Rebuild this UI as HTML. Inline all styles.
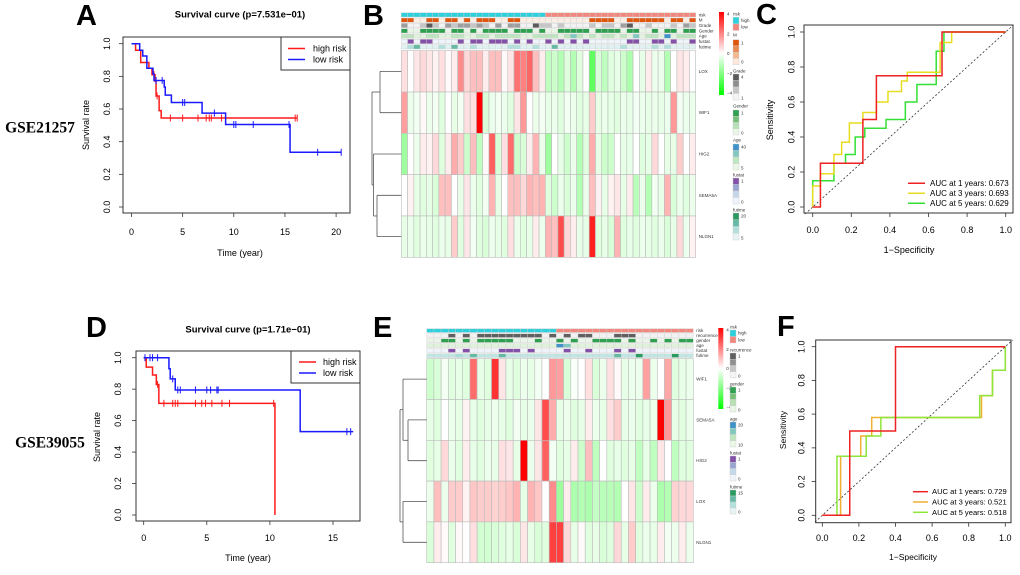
<!DOCTYPE html>
<html><head><meta charset="utf-8">
<style>
html,body{margin:0;padding:0;background:#fff;}
svg{display:block;font-family:"Liberation Sans",Arial,sans-serif;}
</style></head>
<body>
<svg id="fig" width="1020" height="575" viewBox="0 0 1020 575" xmlns="http://www.w3.org/2000/svg">
<rect x="0" y="0" width="1020" height="575" fill="#fff"/>
</svg>
<script>
// ===== Panel A KM data (GSE21257) =====
const A_high_t = [0, 0.4, 0.9, 1.7, 2.0, 2.3, 2.4, 2.7, 2.9];
const A_high_s = [1, 0.96, 0.885, 0.85, 0.81, 0.77, 0.68, 0.59, 0.545];
const A_high_end = 16.2;
const A_high_cens = [2.2, 2.5, 3.8, 5.0, 6.5, 7.3, 7.6, 7.8, 8.8, 16.0, 16.2];
const A_low_t = [0, 0.8, 1.1, 1.5, 2.1, 2.2, 3.2, 3.3, 3.9, 6.9, 9.2, 15.5];
const A_low_s = [1, 0.96, 0.925, 0.85, 0.815, 0.775, 0.735, 0.685, 0.64, 0.575, 0.505, 0.335];
const A_low_end = 20.5;
const A_low_cens = [2.4, 3.0, 5.0, 5.2, 8.1, 10.0, 10.2, 11.9, 15.4, 18.2, 20.5];
const A_xticks = [0, 5, 10, 15, 20];
const surv_yticks = [0, 0.2, 0.4, 0.6, 0.8, 1.0];
// ===== Panel D KM data (GSE39055) =====
const D_high_t = [0, 0.2, 0.7, 1.0, 1.2, 10.4];
const D_high_s = [1, 0.94, 0.89, 0.83, 0.71, 0];
const D_high_end = 10.4;
const D_high_cens = [1.1, 1.6, 2.3, 2.5, 2.7, 4.1, 4.6, 4.9, 5.4, 6.2, 6.8, 10.3];
const D_low_t = [0, 2.0, 2.1, 2.5, 12.4];
const D_low_s = [1, 0.93, 0.865, 0.795, 0.53];
const D_low_end = 16.6;
const D_low_cens = [0.1, 0.5, 0.7, 1.1, 2.3, 2.7, 2.9, 4.1, 5.0, 5.3, 5.8, 5.9, 16.1, 16.4];
const D_xticks = [0, 5, 10, 15];
// ===== ROC C =====
const C_red_fpr = [0,0.04,0.04,0.26,0.26,0.33,0.33,0.67,0.67,1];
const C_red_tpr = [0,0,0.25,0.25,0.5,0.5,0.75,0.75,1,1];
const C_yel_fpr = [0,0,0.04,0.04,0.11,0.11,0.15,0.15,0.19,0.19,0.26,0.26,0.33,0.33,0.39,0.39,0.46,0.46,0.49,0.49,0.66,0.66,0.72,0.72,1];
const C_yel_tpr = [0,0.12,0.12,0.19,0.19,0.3,0.3,0.37,0.37,0.48,0.48,0.54,0.54,0.6,0.6,0.66,0.66,0.72,0.72,0.77,0.77,0.94,0.94,1,1];
const C_grn_fpr = [0,0,0.11,0.11,0.17,0.17,0.22,0.22,0.27,0.27,0.38,0.38,0.48,0.48,0.54,0.54,0.64,0.64,0.68,0.68,1];
const C_grn_tpr = [0,0.15,0.15,0.25,0.25,0.3,0.3,0.4,0.4,0.45,0.45,0.5,0.5,0.6,0.6,0.7,0.7,0.89,0.89,1,1];
const C_labels = ["AUC at 1 years: 0.673","AUC at 3 years: 0.693","AUC at 5 years: 0.629"];
// ===== ROC F =====
const F_red_fpr = [0,0.15,0.15,0.4,0.4,1];
const F_red_tpr = [0,0,0.5,0.5,1,1];
const F_org_fpr = [0,0.1,0.1,0.21,0.21,0.27,0.27,0.87,0.87,0.93,0.93,1,1];
const F_org_tpr = [0,0,0.35,0.35,0.47,0.47,0.58,0.58,0.71,0.71,0.86,0.86,1];
const F_grn_fpr = [0,0.08,0.08,0.24,0.24,0.32,0.32,0.86,0.86,0.93,0.93,1,1];
const F_grn_tpr = [0,0,0.35,0.35,0.47,0.47,0.58,0.58,0.71,0.71,0.86,0.86,1];
const F_labels = ["AUC at 1 years: 0.729","AUC at 3 years: 0.521","AUC at 5 years: 0.518"];
const roc_ticks = [0, 0.2, 0.4, 0.6, 0.8, 1.0];
// ===== Heatmap B =====
const B_genes = ["LOX","WIF1","HIG2","SEMA5A","NLGN1"];
const B_LOX = [0.5,0,0.4,0.6,0.4,0.2,0.5,0.1,0.3,1.8,0.6,1.0,1.0,0.3,1.0,1.0,0.1,0.4,2.2,2.0,2.4,1.0,0.3,-1,-0.8,-1.2,-0.5,-1.2,-0.5,0,-2.5,-0.6,-1.0,-0.5,-0.4,-0.8,-1.3,0,-0.4,0.3,-0.3,-0.3,-1.2,0,0.4,0.3,0];
const B_WIF1 = [1.5,-0.3,-0.2,0.1,-0.3,-0.2,-0.5,0,-0.4,-0.2,0.5,0.5,4,-0.6,-0.3,-0.2,-0.3,-0.5,0.4,1.6,0,-0.3,-0.2,-0.4,-0.3,-0.5,-0.2,-0.3,-0.5,-0.4,0.8,-0.4,-0.3,-0.4,-0.5,-0.3,-0.4,-0.2,-0.3,-0.4,-0.3,-0.4,-0.3,1.6,-0.2,-0.3,-0.3];
const B_HIG2 = [-1.5,0,-0.3,0.3,0.2,0.6,-0.5,0.3,1.3,0.8,-0.8,1.0,-1,0.1,2.5,-0.6,0.5,2.3,-0.8,-0.6,0.3,1.2,-0.3,-1.5,0,-0.4,-0.8,-0.3,-1.2,-0.5,1.3,-0.4,-0.8,-0.8,0,-0.4,-0.4,0,-0.5,-0.4,0.6,0,-0.4,-0.4,0.8,0,0.3];
const B_SEMA5A = [0,0.2,-0.4,-0.5,-0.4,-0.6,1.0,1.0,0,-0.4,0.4,-0.3,-0.5,-0.2,1.2,-0.4,0,1.0,1.0,0.6,1.2,1.0,1.2,-0.5,-0.8,-0.3,-0.6,-0.3,-1.2,-0.3,1.0,0.2,-0.4,0.2,0.4,-0.4,0.3,-1.1,-0.3,-1.2,-0.2,-0.4,1.2,-0.6,-0.3,-0.5,-0.3];
const B_NLGN1 = [-0.4,-0.3,-0.5,-0.3,-0.4,-0.5,-0.3,-0.4,0.8,-0.5,0.4,-0.2,-0.5,-0.6,-0.3,-0.4,-0.5,0.5,-0.3,-0.5,-0.4,0.3,-0.3,1.2,1.0,2.8,0.6,0.3,-0.4,-0.4,3.5,-0.5,-0.4,-0.6,1.2,-0.5,-0.4,-0.5,-0.3,-0.4,-0.5,-0.3,-0.6,-0.4,0.6,-0.3,0.2];
const B_annot_names = ["risk","M","Grade","Gender","Age","fustat","futime"];
const B_risk   = "00000000000000000000000111111111111111111111111";
const B_M      = "11001101101011100110000000000011110011111101101";
const B_Grade  = "31124213233232131330142212101120221340021112032";
const B_Gender = "10011110110101111011101001111101111011001011011";
const B_Age    = "22112211221122122221122221232121221213122141222";
const B_fustat = "01011000010110111010100101010100000011001101001";
const B_futime = "12311121311211111221121131111111111211112121111";
// ===== Heatmap E =====
const E_genes = ["WIF1","SEMA5A","HIG2","LOX","NLGN1"];
const E_WIF1 = [-0.8,-0.6,-0.2,-0.5,-0.4,-0.5,2.3,-0.4,-0.5,3.2,0.4,-0.4,-0.5,-0.3,-0.4,-0.2,0,1.6,1.5,-0.6,-0.1,0,0.5,-0.6,-0.3,0.5,0.1,-0.4,-0.3,-0.3,1.5,-0.3,0,1.4,-0.5,-0.4,-0.3];
const E_SEMA5A = [-0.4,-0.5,0,-0.3,-0.4,0.2,-0.4,-0.5,-0.4,-0.3,-0.4,-0.5,-0.2,-0.4,-0.3,0.4,2.8,1.3,-0.4,-0.3,-0.5,-0.4,0.3,-0.3,-0.4,0.5,0.8,-0.4,-0.3,-0.5,-0.4,-0.3,4,1.6,-0.4,-0.5,-0.3];
const E_HIG2 = [-0.5,-0.4,0.6,-0.3,-0.5,0.3,-0.4,-0.5,-0.3,-0.4,0.5,0.4,-0.4,4,-0.3,0.4,2.5,-0.2,-0.5,-0.4,0.3,-0.8,1.0,-1.0,0,-0.5,-0.4,-0.5,-0.4,-1.0,-0.4,-1.0,0.4,0,-1.0,-0.5,-0.5];
const E_LOX = [-0.3,1.0,-0.3,0.8,0.8,0.2,0.9,0.8,0.8,0.7,0.8,0.9,1.2,-0.4,1.2,0.9,0,1.8,-1.5,0.3,-1.3,-1.2,-1.3,-0.9,-1.1,-1.1,-1.2,0,0.4,-0.8,0.3,-0.3,-1.3,-1.2,0.7,0.6,0.6];
const E_NLGN1 = [-0.6,0.3,0.1,-0.5,0.1,0,0.5,-0.7,-0.7,-0.6,-0.5,-0.4,-0.6,0.4,-0.4,-0.6,-0.5,3.0,3.0,0.6,-0.4,0.1,-0.5,-0.4,-0.6,-0.5,0.6,-0.4,0.8,-0.5,-0.3,-0.4,0.3,-0.2,-0.3,0.3,-0.3];
const E_annot_names = ["risk","recurrence","gender","age","fustat","futime"];
const E_risk       = "0000000000000000001111111111111111111";
const E_recurrence = "0001010111111111010101100011100000000";
const E_gender     = "0011010111110001001010011110100101011";
const E_age        = "1111111111111111113211111111111111111";
const E_fustat     = "0001010000111010000100100010100000000";
const E_futime     = "1111213111311111111111111131141111411";

// ===== helpers =====
const NS = "http://www.w3.org/2000/svg";
const svg = document.getElementById("fig");
function mk(tag, attrs, name, inter, parent) {
  const el = document.createElementNS(NS, tag);
  for (const k in attrs) el.setAttribute(k, attrs[k]);
  
  
  (parent || svg).appendChild(el);
  return el;
}
function txt(x, y, s, size, name, opts) {
  opts = opts || {};
  const a = {x: x, y: y, 'font-size': size, fill: opts.fill || '#000', 'text-anchor': opts.anchor || 'middle', 'dominant-baseline': 'central'};
  if (opts.weight) a['font-weight'] = opts.weight;
  if (opts.family) a['font-family'] = opts.family;
  if (opts.rot) a.transform = 'rotate(-90 ' + x + ' ' + y + ')';
  const t = mk('text', a, name, false);
  t.textContent = s;
  return t;
}
function lin(x1, y1, x2, y2, stroke, w, name, dash) {
  const a = {x1: x1, y1: y1, x2: x2, y2: y2, stroke: stroke, 'stroke-width': w};
  if (dash) a['stroke-dasharray'] = dash;
  return mk('line', a, name, false);
}
function scale(d0, d1, r0, r1) { return v => r0 + (v - d0) / (d1 - d0) * (r1 - r0); }

function axes(box, sx, sy, xticks, yticks, ylabx, xlaby, prefix) {
  mk('rect', {x: box[0], y: box[1], width: box[2]-box[0], height: box[3]-box[1], fill: 'none', stroke: '#333', 'stroke-width': 1}, prefix + '-plot-box', false);
  xticks.forEach(v => {
    lin(sx(v), box[3], sx(v), box[3] + 4, '#333', 0.8, prefix + '-x-tick');
    txt(sx(v), xlaby, (v % 1 === 0 && xticks.length < 6 && xticks[xticks.length-1] > 1) ? String(v) : v.toFixed(1), 9, prefix + '-x-tick-label');
  });
  yticks.forEach(v => {
    lin(box[0] - 4, sy(v), box[0], sy(v), '#333', 0.8, prefix + '-y-tick');
    txt(ylabx, sy(v), v.toFixed(1), 9, prefix + '-y-tick-label', {rot: true});
  });
}
function survAt(ts, ss, t) { let s = ss[0]; for (let i = 0; i < ts.length; i++) if (ts[i] <= t) s = ss[i]; return s; }
function km(ts, ss, end, cens, sx, sy, color, name) {
  let d = 'M' + sx(ts[0]) + ',' + sy(ss[0]);
  for (let i = 1; i < ts.length; i++) d += ' H' + sx(ts[i]) + ' V' + sy(ss[i]);
  d += ' H' + sx(end);
  mk('path', {d: d, fill: 'none', stroke: color, 'stroke-width': 1.5}, name + '-curve', false);
  cens.forEach(t => {
    const y = sy(survAt(ts, ss, t));
    lin(sx(t), y - 3.5, sx(t), y + 3.5, color, 1, name + '-censor-mark');
  });
}
function roc(fpr, tpr, sx, sy, color, name) {
  let d = '';
  for (let i = 0; i < fpr.length; i++) d += (i ? ' L' : 'M') + sx(fpr[i]) + ',' + sy(tpr[i]);
  mk('path', {d: d, fill: 'none', stroke: color, 'stroke-width': 1.5}, name, false);
}
function heatColor(v) {
  const t = Math.min(1, Math.abs(v) / 4);
  const c = Math.round(255 * (1 - t));
  return v >= 0 ? 'rgb(255,' + c + ',' + c + ')' : 'rgb(' + c + ',255,' + c + ')';
}
function heatmap(rows, genes, x0, x1, y0, y1, name) {
  const n = rows[0].length;
  const cw = (x1 - x0) / n, rh = (y1 - y0) / rows.length;
  rows.forEach((r, ri) => {
    r.forEach((v, ci) => {
      mk('rect', {x: x0 + ci*cw, y: y0 + ri*rh, width: cw, height: rh, fill: heatColor(v), stroke: '#bbb', 'stroke-width': 0.6}, name + '-cell', false);
    });
    txt(x1 + 3, y0 + (ri + 0.5)*rh, genes[ri], 4.5, name + '-gene-label', {anchor: 'start', fill: '#333'});
  });
}
function annot(strs, names, colors, x0, x1, y0, step, h, name) {
  const n = strs[0].length;
  const cw = (x1 - x0) / n;
  strs.forEach((s, ri) => {
    for (let ci = 0; ci < n; ci++) {
      const k = parseInt(s[ci]);
      mk('rect', {x: x0 + ci*cw, y: y0 + ri*step, width: cw, height: h, fill: colors[ri][k] || colors[ri][0], stroke: '#ccc', 'stroke-width': 0.4}, name + '-annotation-cell', false);
    }
    txt(x1 + 3, y0 + ri*step + h/2, names[ri], 4.5, name + '-annotation-label', {anchor: 'start', fill: '#333'});
  });
}
function legendBlock(x, ytitle, title, cols, labels, y0, y1, name) {
  txt(x, ytitle, title, 4.5, name + '-title', {anchor: 'start', fill: '#333'});
  const bh = (y1 - y0) / cols.length;
  cols.forEach((c, i) => {
    mk('rect', {x: x, y: y0 + i*bh, width: 6, height: bh, fill: c, stroke: '#ccc', 'stroke-width': 0.4}, name + '-swatch', false);
  });
  labels.forEach(l => txt(x + 8, l[1], l[0], 4.5, name + '-label', {anchor: 'start', fill: '#333'}));
}
function colorbar(x, y0, y1, ticks, name) {
  const id = name + '-grad';
  const defs = mk('defs', {}, name + '-defs', false);
  const g = mk('linearGradient', {id: id, x1: 0, y1: 0, x2: 0, y2: 1}, name + '-gradient', false, defs);
  mk('stop', {offset: '0', 'stop-color': '#ff0000'}, name + '-stop', false, g);
  mk('stop', {offset: '0.5', 'stop-color': '#ffffff'}, name + '-stop', false, g);
  mk('stop', {offset: '1', 'stop-color': '#00ff00'}, name + '-stop', false, g);
  mk('rect', {x: x, y: y0, width: 5, height: y1 - y0, fill: 'url(#' + id + ')'}, name, false);
  ticks.forEach((t, i) => txt(x + 8, y0 + 2 + i * (y1 - y0 - 4) / (ticks.length - 1), t, 4.5, name + '-tick-label', {anchor: 'start', fill: '#333'}));
}

// ===== Panel letters & dataset labels =====
[['A',76,16],['B',363,16],['C',756,15],['D',86,328],['E',373,328],['F',777,327]].forEach(p => {
  txt(p[1], p[2], p[0], 29, 'panel-letter-' + p[0].toLowerCase(), {anchor: 'start', weight: 'bold'});
});
txt(40, 128, 'GSE21257', 15.5, 'dataset-label-gse21257', {weight: 'bold', family: '"Liberation Serif", serif'});
txt(50, 443, 'GSE39055', 15.5, 'dataset-label-gse39055', {weight: 'bold', family: '"Liberation Serif", serif'});

// ===== Panel A =====
(function(){
  const box = [123, 37, 350, 213];
  const sx = scale(0, 20, 131.5, 336.1), sy = scale(0, 1, 207, 43.7);
  axes(box, sx, sy, A_xticks, surv_yticks, 107, 232, 'km-a');
  km(A_high_t, A_high_s, A_high_end, A_high_cens, sx, sy, '#ff1a1a', 'km-a-high-risk');
  km(A_low_t, A_low_s, A_low_end, A_low_cens, sx, sy, '#1a1aff', 'km-a-low-risk');
  txt(240, 15, 'Survival curve (p=7.531e\u221201)', 9.5, 'km-a-title', {weight: 'bold'});
  txt(240, 253, 'Time (year)', 9, 'km-a-x-axis-title');
  txt(86, 125, 'Survival rate', 9, 'km-a-y-axis-title', {rot: true});
  mk('rect', {x: 281, y: 37, width: 69, height: 33, fill: '#fff', stroke: '#333', 'stroke-width': 1}, 'km-a-legend-box', false);
  lin(288, 48.5, 305, 48.5, '#ff1a1a', 1.5, 'km-a-legend-high-swatch');
  lin(288, 59.5, 305, 59.5, '#1a1aff', 1.5, 'km-a-legend-low-swatch');
  txt(313, 48.5, 'high risk', 9, 'km-a-legend-high-label', {anchor: 'start'});
  txt(313, 59.5, 'low risk', 9, 'km-a-legend-low-label', {anchor: 'start'});
})();

// ===== Panel D =====
(function(){
  const box = [136, 351, 360, 521];
  const sx = scale(0, 15, 143.7, 333), sy = scale(0, 1, 515, 357.7);
  axes(box, sx, sy, D_xticks, surv_yticks, 118, 538, 'km-d');
  km(D_high_t, D_high_s, D_high_end, D_high_cens, sx, sy, '#ff1a1a', 'km-d-high-risk');
  km(D_low_t, D_low_s, D_low_end, D_low_cens, sx, sy, '#1a1aff', 'km-d-low-risk');
  txt(248, 330, 'Survival curve (p=1.71e\u221201)', 9.5, 'km-d-title', {weight: 'bold'});
  txt(248, 558, 'Time (year)', 9, 'km-d-x-axis-title');
  txt(97, 437, 'Survival rate', 9, 'km-d-y-axis-title', {rot: true});
  mk('rect', {x: 291, y: 351, width: 69, height: 32, fill: '#fff', stroke: '#333', 'stroke-width': 1}, 'km-d-legend-box', false);
  lin(299, 362, 316, 362, '#ff1a1a', 1.5, 'km-d-legend-high-swatch');
  lin(299, 373, 316, 373, '#1a1aff', 1.5, 'km-d-legend-low-swatch');
  txt(323, 362, 'high risk', 9, 'km-d-legend-high-label', {anchor: 'start'});
  txt(323, 373, 'low risk', 9, 'km-d-legend-low-label', {anchor: 'start'});
})();

// ===== Panel C =====
(function(){
  const box = [804, 25, 1013, 213];
  const sx = scale(0, 1, 812.7, 1005.7), sy = scale(0, 1, 207, 32);
  axes(box, sx, sy, roc_ticks, roc_ticks, 791.5, 230, 'roc-c');
  lin(sx(-0.04), sy(-0.04), sx(1.04), sy(1.04), '#333', 0.8, 'roc-c-diagonal', '2,2');
  roc(C_grn_fpr, C_grn_tpr, sx, sy, '#33e033', 'roc-c-5-year-curve');
  roc(C_yel_fpr, C_yel_tpr, sx, sy, '#e8dc20', 'roc-c-3-year-curve');
  roc(C_red_fpr, C_red_tpr, sx, sy, '#ee2222', 'roc-c-1-year-curve');
  txt(909, 250, '1\u2212Specificity', 9, 'roc-c-x-axis-title');
  txt(770, 120, 'Sensitivity', 9, 'roc-c-y-axis-title', {rot: true});
  const cols = ['#ee2222', '#e8dc20', '#33e033'];
  C_labels.forEach((l, i) => {
    lin(908, 183.3 + i*10, 925, 183.3 + i*10, cols[i], 1.5, 'roc-c-legend-swatch');
    txt(930, 183.3 + i*10, l, 8, 'roc-c-legend-label', {anchor: 'start'});
  });
})();

// ===== Panel F =====
(function(){
  const box = [815.7, 340, 1011, 522.7];
  const sx = scale(0, 1, 822.3, 1005.3), sy = scale(0, 1, 515.3, 346.7);
  axes(box, sx, sy, roc_ticks, roc_ticks, 801.5, 538, 'roc-f');
  lin(sx(-0.04), sy(-0.04), sx(1.04), sy(1.04), '#333', 0.8, 'roc-f-diagonal', '2,2');
  roc(F_org_fpr, F_org_tpr, sx, sy, '#f0b030', 'roc-f-3-year-curve');
  roc(F_grn_fpr, F_grn_tpr, sx, sy, '#8ee63a', 'roc-f-5-year-curve');
  roc(F_red_fpr, F_red_tpr, sx, sy, '#ee2222', 'roc-f-1-year-curve');
  txt(913, 557, '1\u2212Specificity', 8.5, 'roc-f-x-axis-title');
  txt(783, 430, 'Sensitivity', 8.5, 'roc-f-y-axis-title', {rot: true});
  const cols = ['#ee2222', '#f0b030', '#8ee63a'];
  F_labels.forEach((l, i) => {
    lin(913, 491.7 + i*10.3, 928, 491.7 + i*10.3, cols[i], 1.5, 'roc-f-legend-swatch');
    txt(932, 491.7 + i*10.3, l, 7.6, 'roc-f-legend-label', {anchor: 'start'});
  });
})();

// ===== Heatmap B =====
(function(){
  const x0 = 401.3, x1 = 695.7, y0 = 50.7, y1 = 257.3;
  const riskC = ['#2ed0dc', '#f2877e'];
  annot([B_risk, B_M, B_Grade, B_Gender, B_Age, B_fustat, B_futime], B_annot_names,
    [riskC, ['#fdeee4','#e0560f'], ['#f2f2f2','#f2f2f2','#c6c6c6','#9e9e9e','#5a5a5a'], ['#eaf5e8','#2ea050'],
     ['#eaf6e6','#e2f2de','#bfe4c0','#80c8c0','#3f93c9'], ['#eef4fa','#8352a8'], ['#e6f4f4','#dff1f1','#b3e0dc','#66b9a3','#2a9a60']],
    x0, x1, 12.7, 5.33, 4.3, 'heatmap-b');
  heatmap([B_LOX, B_WIF1, B_HIG2, B_SEMA5A, B_NLGN1], B_genes, x0, x1, y0, y1, 'heatmap-b');
  const rh = (y1 - y0) / 5, c = i => y0 + (i + 0.5) * rh;
  const dg = '#555';
  lin(380, c(0), x0, c(0), dg, 0.8, 'heatmap-b-dendrogram'); lin(380, c(1), x0, c(1), dg, 0.8, 'heatmap-b-dendrogram');
  lin(380, c(0), 380, c(1), dg, 0.8, 'heatmap-b-dendrogram');
  lin(377, c(3), x0, c(3), dg, 0.8, 'heatmap-b-dendrogram'); lin(377, c(4), x0, c(4), dg, 0.8, 'heatmap-b-dendrogram');
  lin(377, c(3), 377, c(4), dg, 0.8, 'heatmap-b-dendrogram');
  const m34 = (c(3) + c(4)) / 2;
  lin(373.5, c(2), x0, c(2), dg, 0.8, 'heatmap-b-dendrogram'); lin(373.5, m34, 377, m34, dg, 0.8, 'heatmap-b-dendrogram');
  lin(373.5, c(2), 373.5, m34, dg, 0.8, 'heatmap-b-dendrogram');
  const m01 = (c(0) + c(1)) / 2, m234 = (c(2) + m34) / 2;
  lin(372, m01, 380, m01, dg, 0.8, 'heatmap-b-dendrogram'); lin(372, m234, 373.5, m234, dg, 0.8, 'heatmap-b-dendrogram');
  lin(372, m01, 372, m234, dg, 0.8, 'heatmap-b-dendrogram');
  colorbar(719, 12, 95, ['4', '2', '0', '\u22122', '\u22124'], 'heatmap-b-colorbar');
  legendBlock(733, 14, 'risk', riskC, [['high', 20.5], ['low', 27]], 17.3, 30.5, 'heatmap-b-legend-risk');
  legendBlock(733, 35, 'M', ['#e0560f','#ea8a52','#f3b88e','#fde8da'], [['1', 43], ['0', 62]], 39.7, 64.7, 'heatmap-b-legend-m');
  legendBlock(733, 71, 'Grade', ['#5a5a5a','#8e8e8e','#c6c6c6','#f4f4f4'], [['4', 77], ['1', 98]], 74, 100, 'heatmap-b-legend-grade');
  legendBlock(733, 106, 'Gender', ['#2ea050','#78c07a','#b8e0b4','#eaf5e8'], [['1', 113], ['0', 133]], 110, 135, 'heatmap-b-legend-gender');
  legendBlock(733, 140, 'Age', ['#3f93c9','#80c8c0','#bfe4c0','#eaf6e6'], [['40', 147], ['5', 168]], 144, 170, 'heatmap-b-legend-age');
  legendBlock(733, 175, 'fustat', ['#8352a8','#9aa4d0','#c4d8ec','#eef4fa'], [['1', 181], ['0', 202]], 178, 204, 'heatmap-b-legend-fustat');
  legendBlock(733, 210, 'futime', ['#2a9a60','#66b9a3','#b3e0dc','#e6f4f4'], [['20', 216], ['5', 238]], 213, 240, 'heatmap-b-legend-futime');
})();

// ===== Heatmap E =====
(function(){
  const x0 = 426.7, x1 = 693.3, y0 = 358.7, y1 = 562.7;
  const riskC = ['#2ed0dc', '#f2877e'];
  annot([E_risk, E_recurrence, E_gender, E_age, E_fustat, E_futime], E_annot_names,
    [riskC, ['#f2f2f2','#606060'], ['#eaf5e8','#2ea050'], ['#eaf6e6','#e0f2dc','#80c8c0','#3f93c9'],
     ['#eef4fa','#8352a8'], ['#e6f4f4','#c0e6e4','#a8dcd6','#66b9a3','#2a9a60']],
    x0, x1, 328.7, 5, 3.8, 'heatmap-e');
  heatmap([E_WIF1, E_SEMA5A, E_HIG2, E_LOX, E_NLGN1], E_genes, x0, x1, y0, y1, 'heatmap-e');
  const rh = (y1 - y0) / 5, c = i => y0 + (i + 0.5) * rh;
  const dg = '#555';
  lin(408, c(1), x0, c(1), dg, 0.8, 'heatmap-e-dendrogram'); lin(408, c(2), x0, c(2), dg, 0.8, 'heatmap-e-dendrogram');
  lin(408, c(1), 408, c(2), dg, 0.8, 'heatmap-e-dendrogram');
  const m12 = (c(1) + c(2)) / 2;
  lin(403, c(0), x0, c(0), dg, 0.8, 'heatmap-e-dendrogram'); lin(403, m12, 408, m12, dg, 0.8, 'heatmap-e-dendrogram');
  lin(403, c(0), 403, m12, dg, 0.8, 'heatmap-e-dendrogram');
  lin(403, c(3), x0, c(3), dg, 0.8, 'heatmap-e-dendrogram'); lin(403, c(4), x0, c(4), dg, 0.8, 'heatmap-e-dendrogram');
  lin(403, c(3), 403, c(4), dg, 0.8, 'heatmap-e-dendrogram');
  const mt = (c(0) + m12) / 2, mb = (c(3) + c(4)) / 2;
  lin(400, mt, 403, mt, dg, 0.8, 'heatmap-e-dendrogram'); lin(400, mb, 403, mb, dg, 0.8, 'heatmap-e-dendrogram');
  lin(400, mt, 400, mb, dg, 0.8, 'heatmap-e-dendrogram');
  colorbar(718.3, 328, 409, ['4', '2', '0', '\u22122', '\u22124'], 'heatmap-e-colorbar');
  legendBlock(730, 327, 'risk', riskC, [['high', 333], ['low', 340]], 330, 343, 'heatmap-e-legend-risk');
  legendBlock(730, 350, 'recurrence', ['#606060','#909090','#c6c6c6','#f4f4f4'], [['1', 356], ['0', 376]], 353, 378, 'heatmap-e-legend-recurrence');
  legendBlock(730, 384, 'gender', ['#2ea050','#78c07a','#b8e0b4','#eaf5e8'], [['1', 390], ['0', 410]], 387, 412, 'heatmap-e-legend-gender');
  legendBlock(730, 419, 'age', ['#3f93c9','#80c8c0','#bfe4c0','#eaf6e6'], [['20', 425], ['10', 445]], 422, 447, 'heatmap-e-legend-age');
  legendBlock(730, 453, 'fustat', ['#8352a8','#9aa4d0','#c4d8ec','#eef4fa'], [['1', 459], ['0', 479]], 456, 481, 'heatmap-e-legend-fustat');
  legendBlock(730, 487, 'futime', ['#2a9a60','#66b9a3','#b3e0dc','#e6f4f4'], [['15', 493], ['0', 512]], 490, 514, 'heatmap-e-legend-futime');
})();
</script>
</body></html>
